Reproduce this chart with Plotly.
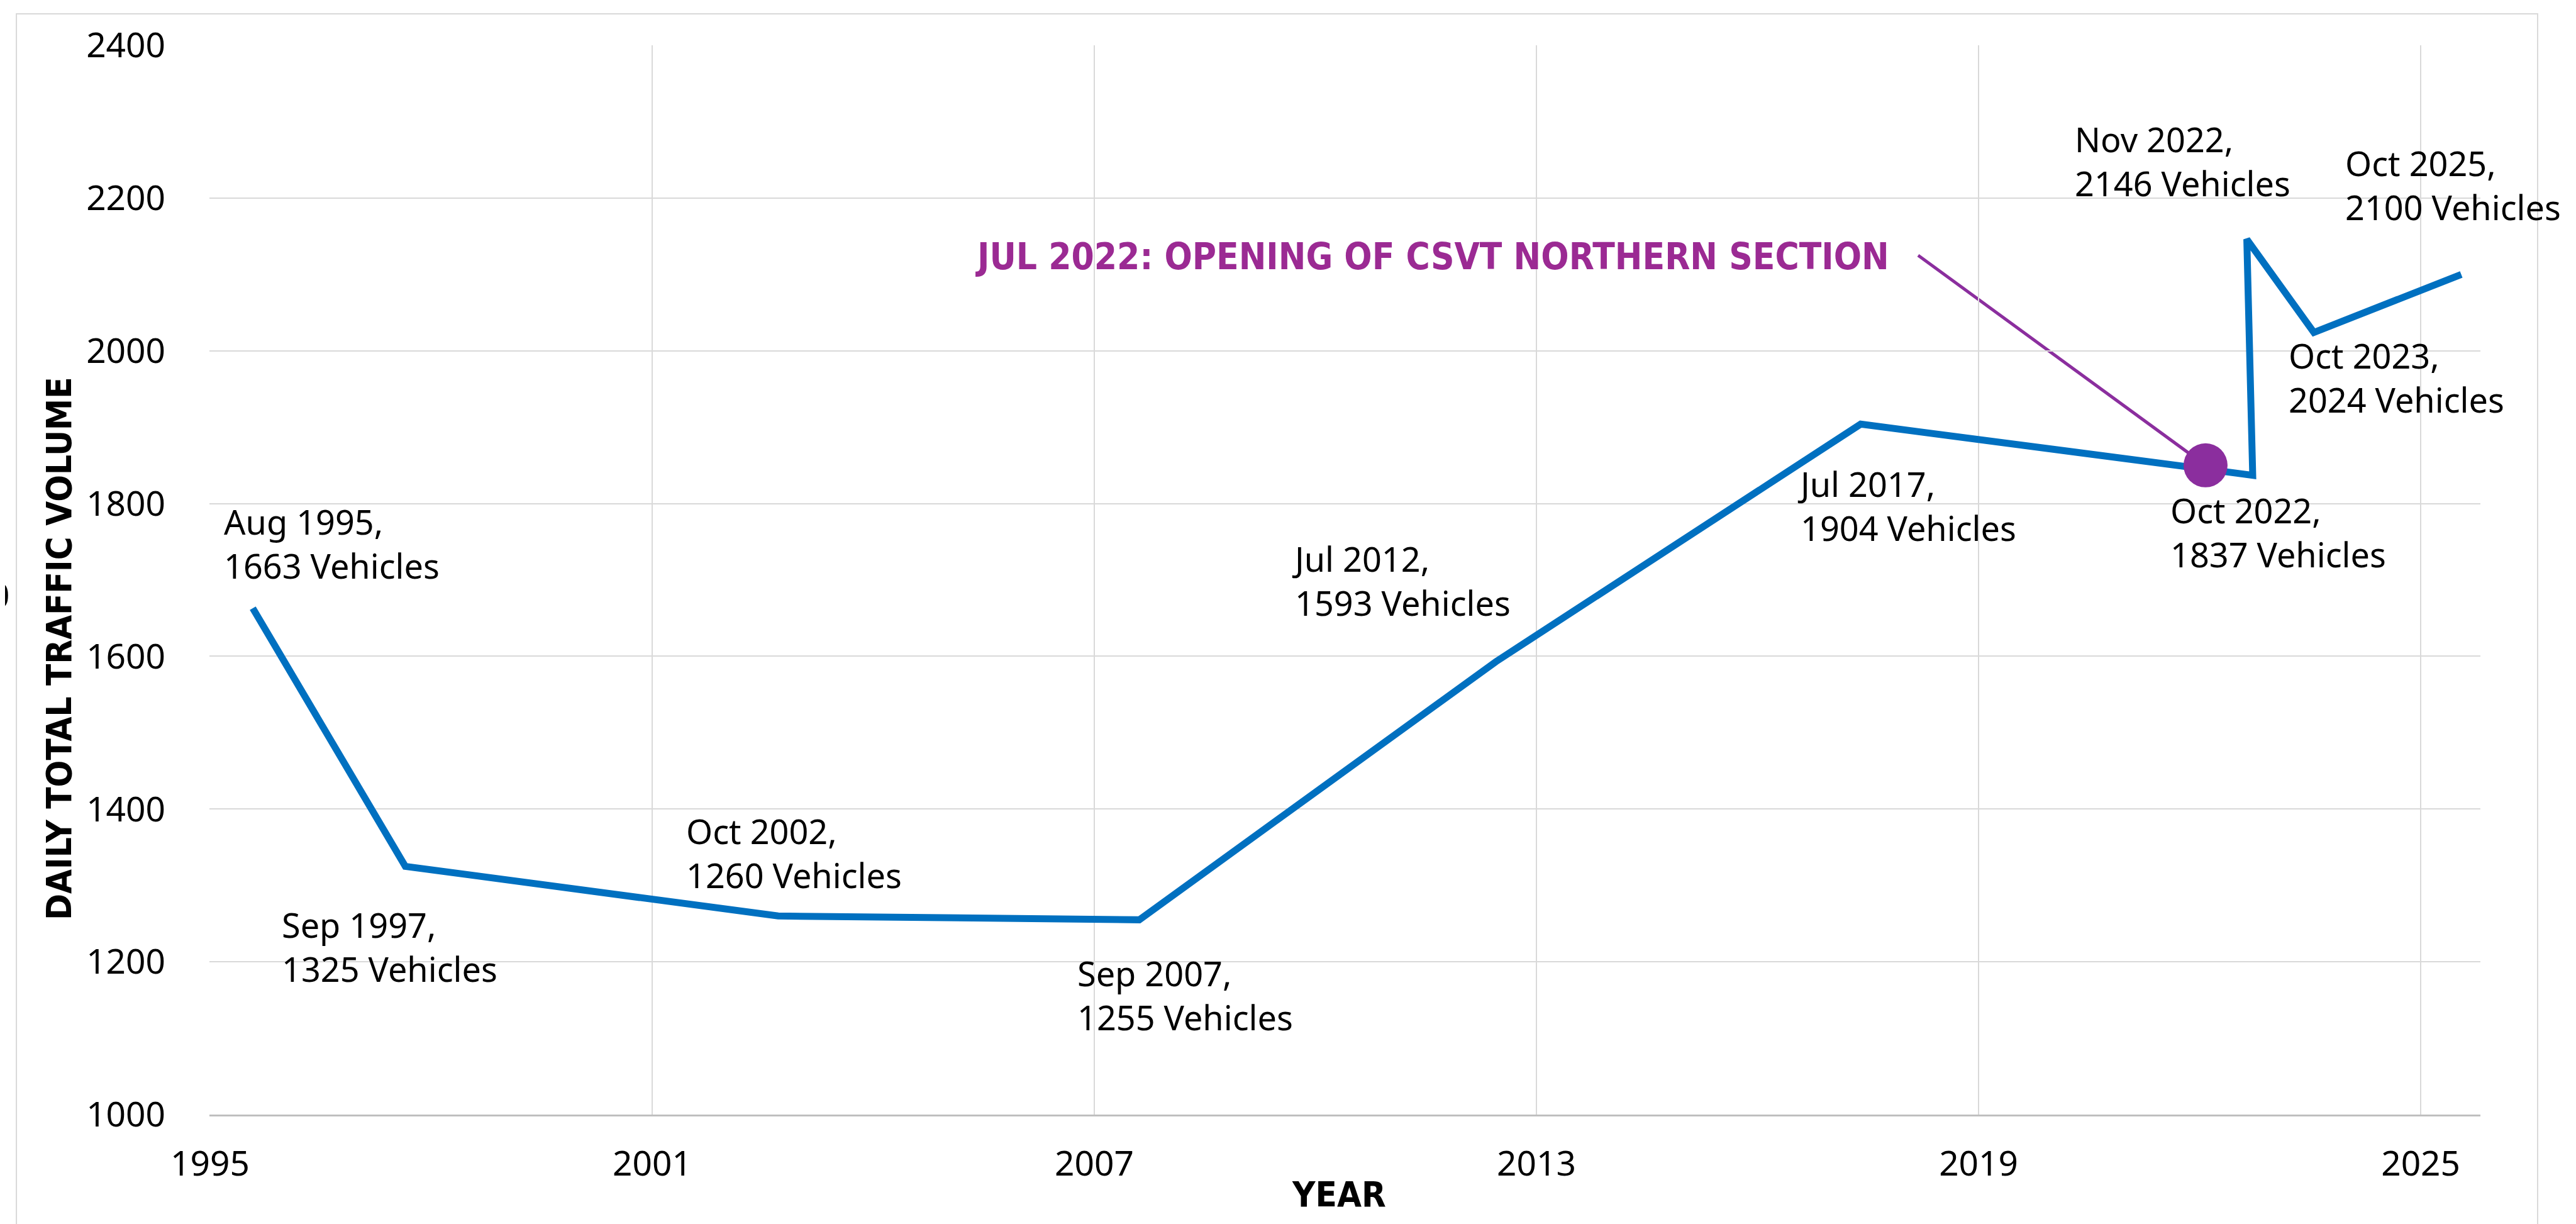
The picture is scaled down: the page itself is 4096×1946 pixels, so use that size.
import plotly.graph_objects as go

# ---- data ----
dates = ["Aug 1995", "Sep 1997", "Oct 2002", "Sep 2007", "Jul 2012", "Jul 2017",
         "Oct 2022", "Nov 2022", "Oct 2023", "Oct 2025"]
years = [1995.58, 1997.65, 2002.71, 2007.61, 2012.45, 2017.40,
         2022.72, 2022.64, 2023.55, 2025.55]
vehicles = [1663, 1325, 1260, 1255, 1593, 1904, 1837, 2146, 2024, 2100]

event_label = "JUL 2022: OPENING OF CSVT NORTHERN SECTION"
event_year = [2022.08]
event_value = [1850]
leader_start = (2018.18, 2125)

x_ticks = [1995, 2001, 2007, 2013, 2019, 2025]
y_ticks = [1000, 1200, 1400, 1600, 1800, 2000, 2200, 2400]

# label offsets in reference pixels (dx right, dy down) relative to each point
label_offsets = [(-50, -108), (-209, 135), (-156, -106), (-106, 126), (-344, -136),
                 (-108, 137), (-140, 95), (-290, -131), (-44, 75), (-197, -150)]

S = 0.949
BLUE = "#0070C0"
PURPLE_M = "#8B2E9E"
PURPLE_T = "#9B2A93"
GRID = "#D9D9D9"
BODY_FONT = "Segoe UI, Noto Sans, sans-serif"
COND_FONT = "Liberation Sans Narrow, DejaVu Sans Condensed, Arial Narrow, sans-serif"

fig = go.Figure()
fig.add_trace(go.Scatter(x=years, y=vehicles, mode="lines",
                         line=dict(color=BLUE, width=11), hoverinfo="skip"))
fig.add_trace(go.Scatter(x=event_year, y=event_value, mode="markers",
                         marker=dict(color=PURPLE_M, size=70, line=dict(width=0)),
                         hoverinfo="skip"))

# leader line from the event label to the marker
fig.add_shape(type="line", xref="x", yref="y",
              x0=leader_start[0], y0=leader_start[1], x1=event_year[0], y1=event_value[0],
              line=dict(color=PURPLE_M, width=5), layer="below")

annotations = []
for d, xv, yv, (dx, dy) in zip(dates, years, vehicles, label_offsets):
    annotations.append(dict(x=xv, y=yv, xref="x", yref="y", showarrow=False,
                            text=f"{d},<br>{yv} Vehicles", align="left",
                            xanchor="left", yanchor="middle",
                            xshift=dx * S, yshift=-dy * S,
                            font=dict(family=BODY_FONT, size=54, color="black")))

annotations.append(dict(x=0.7402, y=0.8024, xref="paper", yref="paper", showarrow=False,
                        text=f"<b>{event_label}</b>", xanchor="right", yanchor="middle",
                        font=dict(family=COND_FONT, size=58, color=PURPLE_T)))
annotations.append(dict(x=-0.0662, y=0.436, xref="paper", yref="paper", showarrow=False,
                        text="<b>DAILY TOTAL TRAFFIC VOLUME</b>", textangle=-90,
                        xanchor="center", yanchor="middle",
                        font=dict(family=COND_FONT, size=56, color="black")))
annotations.append(dict(x=0.4974, y=-0.0747, xref="paper", yref="paper", showarrow=False,
                        text="<b>YEAR</b>", xanchor="center", yanchor="middle",
                        font=dict(family=COND_FONT, size=56, color="black")))
annotations.append(dict(x=-0.0875, y=0.4865, xref="paper", yref="paper", showarrow=False,
                        text="0", xanchor="right", yanchor="middle",
                        font=dict(family=BODY_FONT, size=55, color="black")))

# outer frame
fig.add_shape(type="rect", xref="paper", yref="paper",
              x0=-0.0850, x1=1.0252, y0=-0.25, y1=1.0294,
              line=dict(color=GRID, width=2), fillcolor="rgba(0,0,0,0)", layer="below")

fig.update_layout(
    width=4096, height=1946,
    margin=dict(l=325, r=160, t=64, b=182, autoexpand=False),
    plot_bgcolor="white", paper_bgcolor="white",
    showlegend=False,
    annotations=annotations,
    xaxis=dict(range=[1994.992, 2025.81], tickvals=x_ticks, ticktext=[str(t) for t in x_ticks],
               showgrid=True, gridcolor=GRID, gridwidth=2, zeroline=False,
               showline=True, linecolor="#BFBFBF", linewidth=3,
               ticks="outside", ticklen=28, tickcolor="rgba(0,0,0,0)",
               tickfont=dict(family=BODY_FONT, size=55, color="black")),
    yaxis=dict(range=[1000, 2400], tickvals=y_ticks,
               showgrid=True, gridcolor=GRID, gridwidth=2, zeroline=False,
               showline=False,
               ticks="outside", ticklen=58, tickcolor="rgba(0,0,0,0)",
               tickfont=dict(family=BODY_FONT, size=55, color="black")),
)

fig.write_html("out.html")
